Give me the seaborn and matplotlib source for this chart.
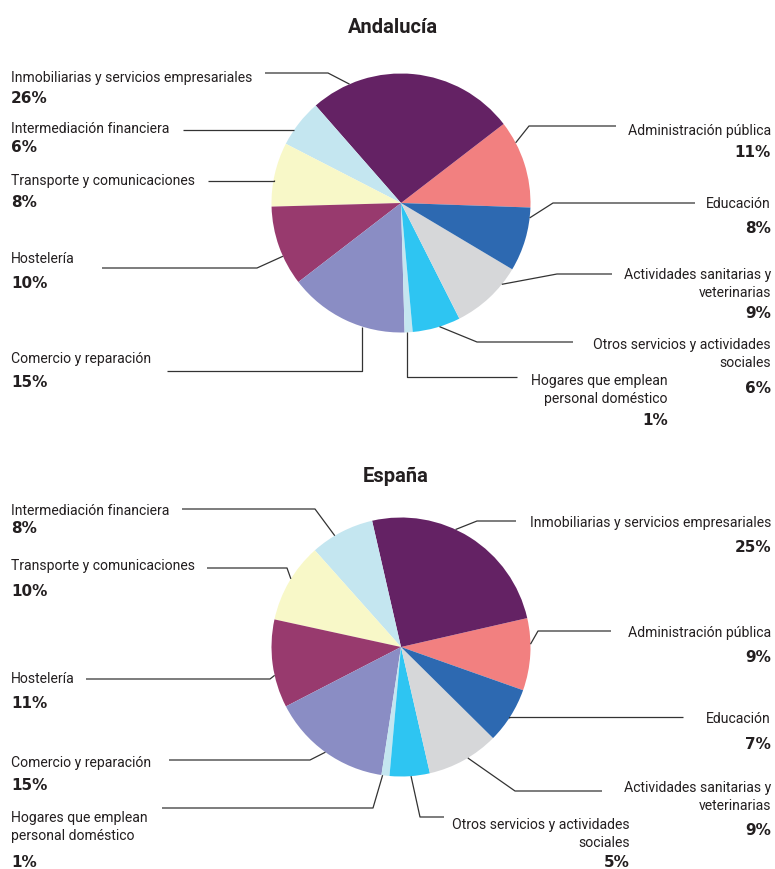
import numpy as np
import matplotlib
matplotlib.use("Agg")
import matplotlib.pyplot as plt
import seaborn as sns

# sectores, en el orden en que se dibujan (sentido antihorario)
sectores = [
    "Administración pública",
    "Inmobiliarias y servicios empresariales",
    "Intermediación financiera",
    "Transporte y comunicaciones",
    "Hostelería",
    "Comercio y reparación",
    "Hogares que emplean\npersonal doméstico",
    "Otros servicios y actividades\nsociales",
    "Actividades sanitarias y\nveterinarias",
    "Educación",
]
andalucia = [11, 26, 6, 8, 10, 15, 1, 6, 9, 8]
espana = [9, 25, 8, 10, 11, 15, 1, 5, 9, 7]

colores = ["#f28080", "#642264", "#c4e6f0", "#f8f8c8", "#983a6e",
           "#8a8dc4", "#c4e6f0", "#2ec5f2", "#d6d7d9", "#2d69b1"]

W, H = 775, 869
R = 129.5

# layout: (fraccion del sector, codo x, linea y, inicio x, texto x, alineacion,
#          y base de la ultima linea de la etiqueta, y porcentaje)
layout_and = [
    (0.75, 529, 126, 616, 771, "right", 135, 157),
    (0.81, 328, 73, 265, 11, "left", 82, 103),
    (0.66, None, 130, 183, 11, "left", 133, 152),
    (0.59, None, 181, 208, 11, "left", 185, 207),
    (0.63, 257, 268, 102, 11, "left", 263, 288),
    (0.65, None, 371, 167, 11, "left", 363, 387),
    (0.30, None, 377, 517, 668, "right", 403, 425),
    (0.56, 477, 342, 573, 771, "right", 367, 393),
    (0.75, 557, 274, 612, 771, "right", 297, 318),
    (0.84, 553, 203, 695, 771, "right", 208, 233),
]
layout_esp = [
    (0.64, 538, 631, 611, 771, "right", 637, 662),
    (0.58, 477, 521, 516, 771, "right", 527, 552),
    (0.62, 315, 509, 182, 11, "left", 515, 533),
    (0.46, 287, 568, 207, 11, "left", 570, 596),
    (0.63, 270, 679, 86, 11, "left", 683, 708),
    (0.50, 310, 760, 169, 11, "left", 767, 790),
    (0.15, 373, 808, 162, 11, "left", 840, 867),
    (0.53, 420, 817, 444, 630, "right", 847, 867),
    (0.56, 515, 791, 602, 771, "right", 810, 835),
    (0.46, None, 717, 683, 771, "right", 723, 749),
]

sns.set_theme(style="white")
plt.rcParams["font.family"] = ["Roboto", "Liberation Sans", "DejaVu Sans"]

fig = plt.figure(figsize=(W / 100, H / 100), dpi=100)
over = fig.add_axes([0, 0, 1, 1], zorder=5)
over.set_xlim(0, W)
over.set_ylim(H, 0)
over.axis("off")
over.patch.set_alpha(0)

label_kw = dict(fontsize=10.1, color="#231f20", linespacing=1.4)
pct_kw = dict(fontsize=11, color="#231f20", fontweight="bold", family=["DejaVu Sans"])
line_kw = dict(color="#333333", lw=0.9, solid_capstyle="butt")


def draw_pie(values, layout, cx, cy, start, title, title_x, title_y):
    ax = fig.add_axes([(cx - R) / W, 1 - (cy + R) / H, 2 * R / W, 2 * R / H])
    wedges, _ = ax.pie(values, colors=sns.color_palette(colores), startangle=start,
                       counterclock=True, radius=1, wedgeprops=dict(linewidth=0))
    ax.set_xlim(-1, 1)
    ax.set_ylim(-1, 1)
    ax.set_aspect("auto")
    ax.axis("off")

    to_over = over.transData.inverted()
    for w, val, name, (f, ex, ly, sx, tx, ha, yl, yp) in zip(wedges, values, sectores, layout):
        ang = np.deg2rad(w.theta1 + f * (w.theta2 - w.theta1))
        px, py = to_over.transform(ax.transData.transform((np.cos(ang), np.sin(ang))))
        if ex is None:
            ex = px
        over.plot([sx, ex, px], [ly, ly, py], **line_kw)
        over.text(tx, yl, name, ha=ha, va="baseline", multialignment=ha, **label_kw)
        over.text(tx, yp, f"{val}%", ha=ha, va="baseline", **pct_kw)

    over.text(title_x, title_y, title, ha="center", va="baseline",
              fontsize=14.5, fontweight="bold", color="#231f20")


draw_pie(andalucia, layout_and, 401, 203, -2, "Andalucía", 393, 33)
draw_pie(espana, layout_esp, 401, 647, -19.5, "España", 396, 482)

fig.savefig("out.png", dpi=100, facecolor="white")
